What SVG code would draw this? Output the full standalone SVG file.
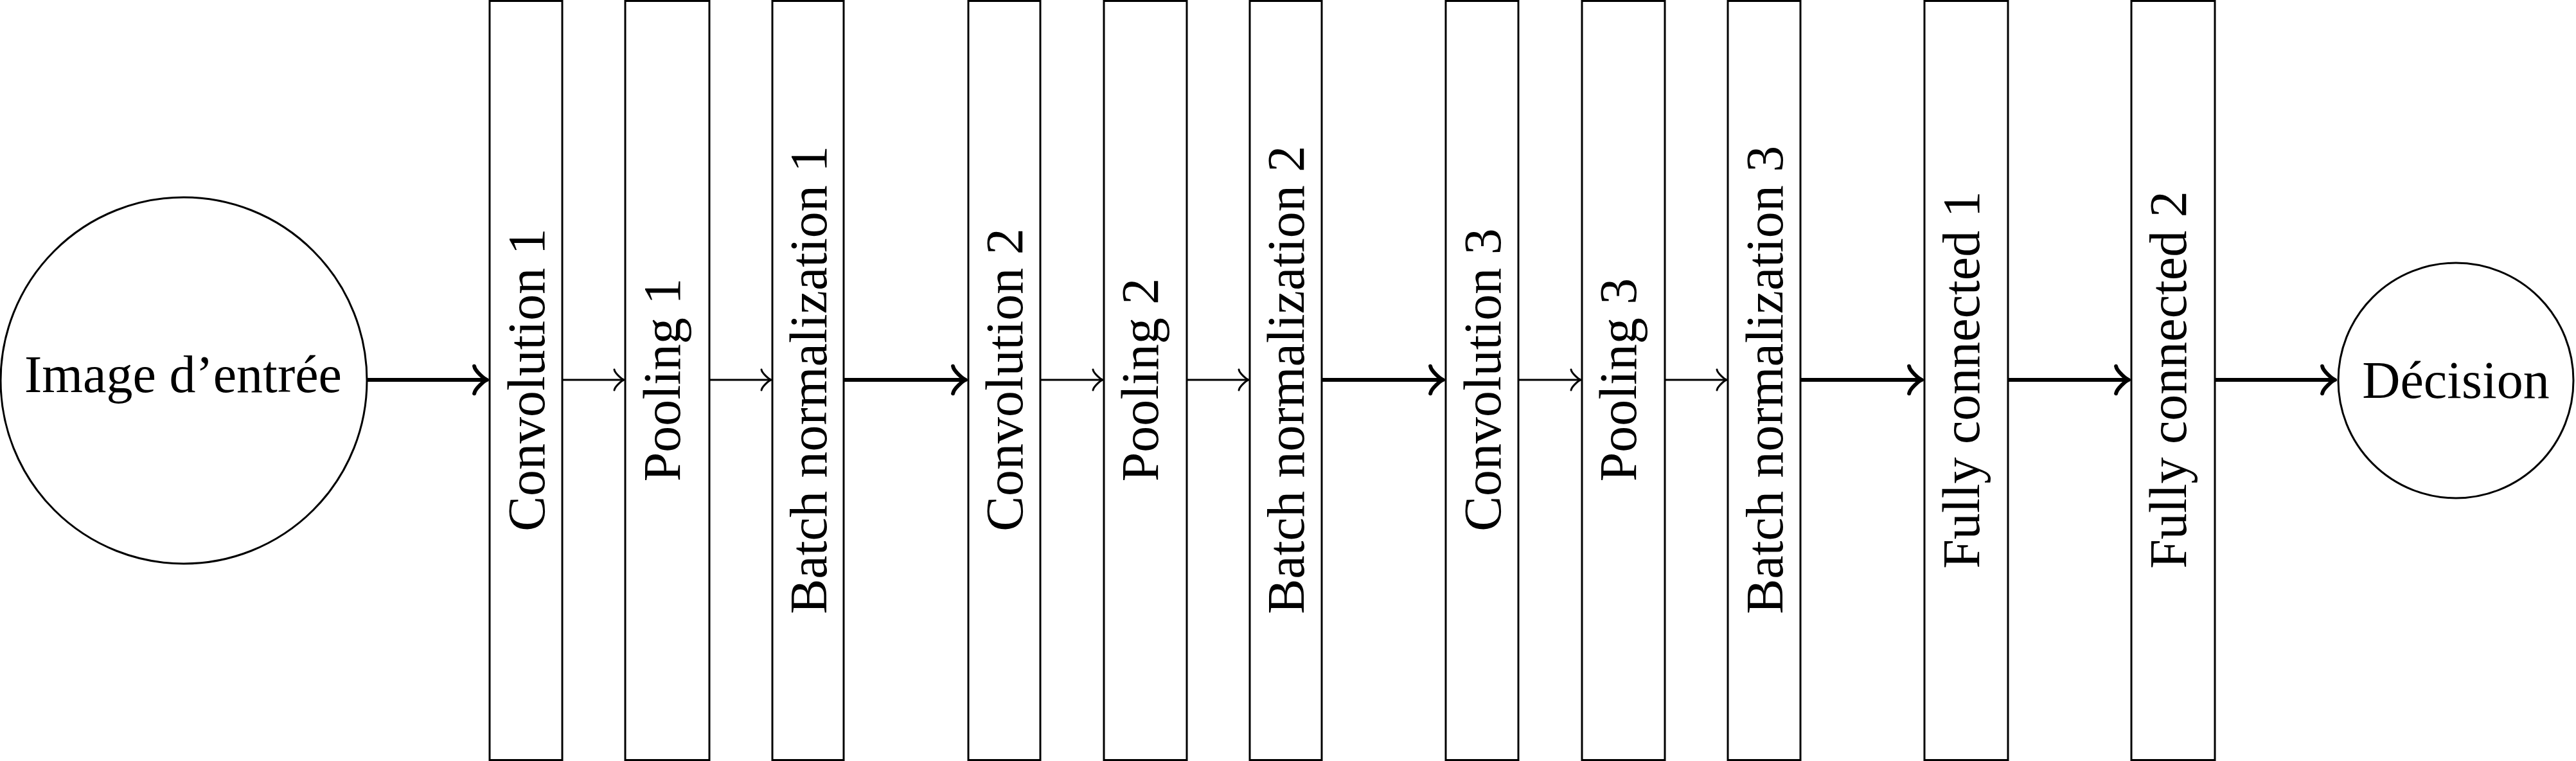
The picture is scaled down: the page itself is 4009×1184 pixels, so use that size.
<svg xmlns="http://www.w3.org/2000/svg" width="4009" height="1184" viewBox="0 0 4009 1184">
<style>
.box{fill:#fff;stroke:#000;stroke-width:3}
.circ{fill:#fff;stroke:#000;stroke-width:3}
.lbl{font-family:"Liberation Serif","Times New Roman",serif;font-size:82px;fill:#000}
.thin{stroke:#000;stroke-width:3;fill:none}
.thick{stroke:#000;stroke-width:6;fill:none}
.hthin{stroke:#000;stroke-width:3;fill:none;stroke-linecap:round;stroke-linejoin:round}
.hthick{stroke:#000;stroke-width:6;fill:none;stroke-linecap:round;stroke-linejoin:round}
</style>
<defs>
<path id="ahThin" class="hthin" d="M-15,16 C-14,10 -3,1 0,0 C-3,-1 -14,-10 -15,-16"/>
<path id="ahThick" class="hthick" d="M-19.9,21.2 C-18.6,13.3 -4,1.3 0,0 C-4,-1.3 -18.6,-13.3 -19.9,-21.2"/>
</defs>
<rect width="4009" height="1184" fill="#fff"/>
<g id="connectors">
<line class="thick" x1="571" y1="591" x2="758" y2="591"/><use href="#ahThick" transform="translate(758,591)"/>
<line class="thick" x1="1313" y1="591" x2="1503" y2="591"/><use href="#ahThick" transform="translate(1503,591)"/>
<line class="thick" x1="2057" y1="591" x2="2246" y2="591"/><use href="#ahThick" transform="translate(2246,591)"/>
<line class="thick" x1="2802" y1="591" x2="2991" y2="591"/><use href="#ahThick" transform="translate(2991,591)"/>
<line class="thick" x1="3125" y1="591" x2="3313" y2="591"/><use href="#ahThick" transform="translate(3313,591)"/>
<line class="thick" x1="3447" y1="591" x2="3634" y2="591"/><use href="#ahThick" transform="translate(3634,591)"/>
<line class="thin" x1="875" y1="591" x2="971" y2="591"/><use href="#ahThin" transform="translate(971,591)"/>
<line class="thin" x1="1104" y1="591" x2="1200" y2="591"/><use href="#ahThin" transform="translate(1200,591)"/>
<line class="thin" x1="1619" y1="591" x2="1716" y2="591"/><use href="#ahThin" transform="translate(1716,591)"/>
<line class="thin" x1="1847" y1="591" x2="1943" y2="591"/><use href="#ahThin" transform="translate(1943,591)"/>
<line class="thin" x1="2363" y1="591" x2="2460" y2="591"/><use href="#ahThin" transform="translate(2460,591)"/>
<line class="thin" x1="2591" y1="591" x2="2687" y2="591"/><use href="#ahThin" transform="translate(2687,591)"/>
</g>
<g id="input">
<circle class="circ" cx="286" cy="592" r="285"/>
<text class="lbl" x="285" y="610" text-anchor="middle">Image d’entrée</text>
</g>
<g id="conv1"><rect class="box" x="762" y="1.5" width="113" height="1181"/><text class="lbl" text-anchor="middle" transform="translate(847,591) rotate(-90)">Convolution 1</text></g>
<g id="pool1"><rect class="box" x="973" y="1.5" width="131" height="1181"/><text class="lbl" text-anchor="middle" transform="translate(1058,591) rotate(-90)">Pooling 1</text></g>
<g id="bn1"><rect class="box" x="1202" y="1.5" width="111" height="1181"/><text class="lbl" text-anchor="middle" transform="translate(1286,591) rotate(-90)">Batch normalization 1</text></g>
<g id="conv2"><rect class="box" x="1507" y="1.5" width="112" height="1181"/><text class="lbl" text-anchor="middle" transform="translate(1591,591) rotate(-90)">Convolution 2</text></g>
<g id="pool2"><rect class="box" x="1718" y="1.5" width="129" height="1181"/><text class="lbl" text-anchor="middle" transform="translate(1802,591) rotate(-90)">Pooling 2</text></g>
<g id="bn2"><rect class="box" x="1945" y="1.5" width="112" height="1181"/><text class="lbl" text-anchor="middle" transform="translate(2029,591) rotate(-90)">Batch normalization 2</text></g>
<g id="conv3"><rect class="box" x="2250" y="1.5" width="113" height="1181"/><text class="lbl" text-anchor="middle" transform="translate(2335,591) rotate(-90)">Convolution 3</text></g>
<g id="pool3"><rect class="box" x="2462" y="1.5" width="129" height="1181"/><text class="lbl" text-anchor="middle" transform="translate(2546,591) rotate(-90)">Pooling 3</text></g>
<g id="bn3"><rect class="box" x="2689" y="1.5" width="113" height="1181"/><text class="lbl" text-anchor="middle" transform="translate(2774,591) rotate(-90)">Batch normalization 3</text></g>
<g id="fc1"><rect class="box" x="2995" y="1.5" width="130" height="1181"/><text class="lbl" text-anchor="middle" transform="translate(3080,591) rotate(-90)">Fully connected 1</text></g>
<g id="fc2"><rect class="box" x="3317" y="1.5" width="130" height="1181"/><text class="lbl" text-anchor="middle" transform="translate(3402,591) rotate(-90)">Fully connected 2</text></g>
<g id="decision">
<circle class="circ" cx="3822" cy="592" r="183"/>
<text class="lbl" x="3822" y="619" text-anchor="middle">Décision</text>
</g>
</svg>
